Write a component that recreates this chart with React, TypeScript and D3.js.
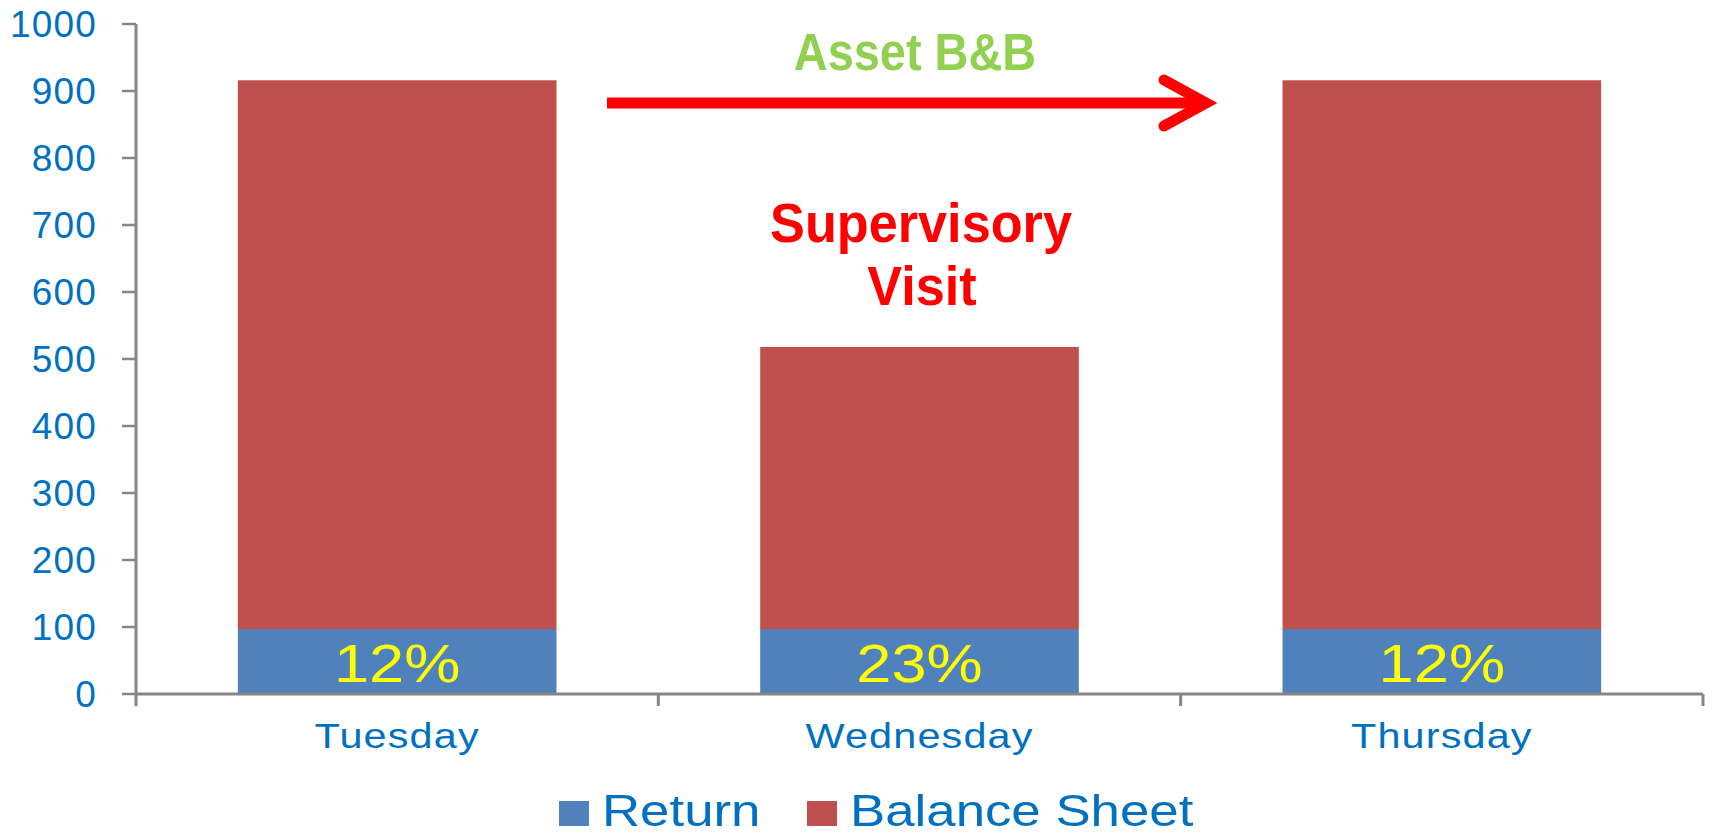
import React from "react"
import * as d3 from "d3"

const categories = ["Tuesday", "Wednesday", "Thursday"]
const returnValues = [97, 97, 97]
const balanceValues = [819, 421, 819]
const returnLabels = ["12%", "23%", "12%"]
const yTicks = [0, 100, 200, 300, 400, 500, 600, 700, 800, 900, 1000]
const seriesNames = ["Return", "Balance Sheet"]
const seriesColors = ["#4F81BD", "#C0504D"]

const W = 1713
const H = 834
const margin = { top: 24, right: 10, bottom: 140, left: 136 }
const axisColor = "#868686"
const textBlue = "#0070C0"
const font = "'Liberation Sans', Arial, sans-serif"

export default function App() {
  const x = d3.scaleBand()
    .domain(categories)
    .range([margin.left, W - margin.right])
    .paddingInner(0.39)
    .paddingOuter(0.195)

  const y = d3.scaleLinear()
    .domain([0, 1000])
    .range([H - margin.bottom, margin.top])

  const stacked = d3.stack()
    .keys(["ret", "bal"])(categories.map((c, i) => ({ cat: c, ret: returnValues[i], bal: balanceValues[i] })) as any)

  const step = x.step()
  const xEdges = categories.map((c) => (x(c) as number) - (step - x.bandwidth()) / 2)
  xEdges.push(W - margin.right)
  const y0 = y(0)

  return (
    <svg width={W} height={H} style={{ position: "absolute", left: 0, top: 0, background: "#fff" }}>
      {/* bars */}
      {stacked.map((layer, li) => (
        <g key={li} fill={seriesColors[li]}>
          {layer.map((d, i) => (
            <rect key={i}
              x={x(categories[i])}
              y={y(d[1])}
              width={x.bandwidth()}
              height={y(d[0]) - y(d[1])} />
          ))}
        </g>
      ))}

      {/* y axis */}
      <line x1={margin.left} x2={margin.left} y1={y(1000)} y2={y0 + 12} stroke={axisColor} strokeWidth={3} />
      {yTicks.map((t) => (
        <g key={t}>
          <line x1={margin.left - 14} x2={margin.left} y1={y(t)} y2={y(t)} stroke={axisColor} strokeWidth={2.5} />
          <text x={97} y={y(t)} dy="0.36em" textAnchor="end" fontFamily={font} fontSize={37}
            fill={textBlue} letterSpacing={1.2}>{t}</text>
        </g>
      ))}

      {/* x axis */}
      <line x1={margin.left} x2={W - margin.right} y1={y0} y2={y0} stroke={axisColor} strokeWidth={3} />
      {xEdges.slice(1).map((ex, i) => (
        <line key={i} x1={ex} x2={ex} y1={y0} y2={y0 + 12} stroke={axisColor} strokeWidth={3} />
      ))}
      {categories.map((c) => {
        const cx = (x(c) as number) + x.bandwidth() / 2
        return (
          <text key={c} transform={`translate(${cx},748) scale(1.15,1)`} textAnchor="middle"
            fontFamily={font} fontSize={36} fill={textBlue} letterSpacing={1}>{c}</text>
        )
      })}

      {/* percentage labels */}
      {categories.map((c, i) => {
        const cx = (x(c) as number) + x.bandwidth() / 2
        return (
          <text key={c} transform={`translate(${cx},682) scale(1.17,1)`} textAnchor="middle"
            fontFamily={font} fontSize={54} fill="#FFFF00">{returnLabels[i]}</text>
        )
      })}

      {/* annotations */}
      <text transform="translate(915,70) scale(0.92,1)" textAnchor="middle" fontFamily={font}
        fontWeight="bold" fontSize={51} fill="#92D050">Asset B&amp;B</text>
      <line x1={607} x2={1202} y1={103} y2={103} stroke="#FF0000" strokeWidth={11} />
      <polyline points="1164,80 1206,103 1164,126" fill="none" stroke="#FF0000" strokeWidth={11}
        strokeLinecap="round" strokeLinejoin="miter" />
      <g fontFamily={font} fontWeight="bold" fontSize={55} fill="#FF0000" textAnchor="middle">
        <text transform="translate(921,242) scale(0.95,1)">Supervisory</text>
        <text transform="translate(922,305) scale(0.95,1)">Visit</text>
      </g>

      {/* legend */}
      {seriesNames.map((s, i) => {
        const lx = i === 0 ? 559 : 807
        return (
          <g key={s}>
            <rect x={lx} y={801} width={30} height={25} fill={seriesColors[i]} />
            <text transform={`translate(${lx + 43},826) scale(1.2,1)`} fontFamily={font} fontSize={44}
              fill={textBlue}>{s}</text>
          </g>
        )
      })}
    </svg>
  )
}
